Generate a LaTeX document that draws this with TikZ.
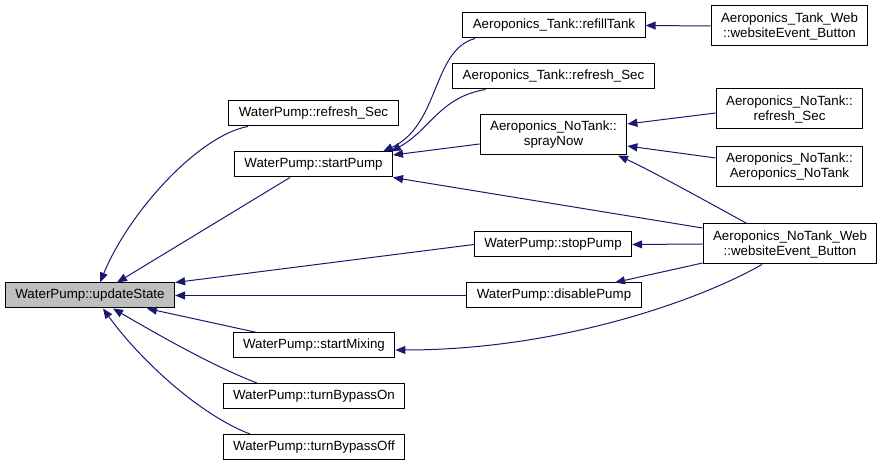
\documentclass[tikz,border=0pt]{standalone}
\usepackage{fontspec}
\setmainfont{Liberation Sans}
\usetikzlibrary{arrows.meta, calc}
\definecolor{mnblue}{RGB}{25,25,112}
\definecolor{selgray}{RGB}{191,191,191}
\begin{document}
\begin{tikzpicture}[x=0.75pt,y=-0.75pt,
  box/.style={draw,fill=white,line width=0.75pt,align=center,inner xsep=7.5pt,inner ysep=2pt,
              minimum height=18.75pt,font=\fontsize{10}{11.25}\selectfont},
  boxtwo/.style={box,minimum height=30pt},
  arr/.style={-{Triangle[length=7.5pt,width=6pt]},mnblue,line width=0.75pt}
]
\useasboundingbox (0,0) rectangle (883,466);
\node[box,fill=selgray] (upd) at (90,295.5) {WaterPump::updateState};
\node[box] (wref)  at (313.5,113.5) {WaterPump::refresh\_Sec};
\node[box] (start) at (313.5,164.5) {WaterPump::startPump};
\node[box] (mix)   at (314,345.5) {WaterPump::startMixing};
\node[box] (bon)   at (314,396) {WaterPump::turnBypassOn};
\node[box] (boff)  at (314,447) {WaterPump::turnBypassOff};
\node[box] (refill) at (554,25.5) {Aeroponics\_Tank::refillTank};
\node[box] (tref)  at (553.5,76.5) {Aeroponics\_Tank::refresh\_Sec};
\node[boxtwo] (spray) at (553.5,135) {Aeroponics\_NoTank::\\sprayNow};
\node[box] (stop)  at (553,244.5) {WaterPump::stopPump};
\node[box] (dis)   at (554,295.5) {WaterPump::disablePump};
\node[boxtwo] (tweb) at (789.5,26) {Aeroponics\_Tank\_Web\\::websiteEvent\_Button};
\node[boxtwo] (nref) at (789.5,109) {Aeroponics\_NoTank::\\refresh\_Sec};
\node[boxtwo] (nnt)  at (789.5,166.5) {Aeroponics\_NoTank::\\Aeroponics\_NoTank};
\node[boxtwo] (nweb) at (790,244) {Aeroponics\_NoTank\_Web\\::websiteEvent\_Button};
\draw[arr] ($(wref.south)+(-65.5,0)$) .. controls (200,135) and (130,210) .. ($(upd.north)+(10,0)$);
\draw[arr] ($(start.south)+(-23.5,0)$) -- ($(upd.north)+(27,0)$);
\draw[arr] (stop.west) -- (upd.north east);
\draw[arr] (dis.west) -- (upd.east);
\draw[arr] ($(mix.north)+(-57,0)$) -- ($(upd.south)+(57,0)$);
\draw[arr] ($(bon.north)+(-57,0)$) .. controls (210,365) and (150,330) .. ($(upd.south)+(23,0)$);
\draw[arr] ($(boff.north)+(-64,0)$) .. controls (200,415) and (140,360) .. ($(upd.south)+(13,0)$);
\draw[arr] ($(refill.south)+(-79,0)$) .. controls (432,50) and (440,125) .. ($(start.north)+(69.5,0)$);
\draw[arr] ($(tref.south)+(-68,0)$) .. controls (440,97) and (430,130) .. ($(start.north)+(77.5,0)$);
\draw[arr] ($(spray.west)+(0,9)$) -- ($(start.east)+(0,-9.5)$);
\draw[arr] ($(nweb.west)+(0,-16)$) -- (start.south east);
\draw[arr] (tweb.west) -- (refill.east);
\draw[arr] ($(nref.west)+(0,4)$) -- ($(spray.east)+(0,-11)$);
\draw[arr] ($(nnt.west)+(0,-8.5)$) -- ($(spray.east)+(0,11)$);
\draw[arr] ($(nweb.north)+(-43,0)$) .. controls (715,206) and (650,170) .. ($(spray.south)+(64.5,0)$);
\draw[arr] (nweb.west) -- (stop.east);
\draw[arr] ($(nweb.west)+(0,19)$) -- ($(dis.north)+(61,0)$);
\draw[arr] ($(nweb.south)+(-28,0)$) .. controls (700,300) and (560,350) .. ($(mix.east)+(0,4.5)$);
\end{tikzpicture}
\end{document}
